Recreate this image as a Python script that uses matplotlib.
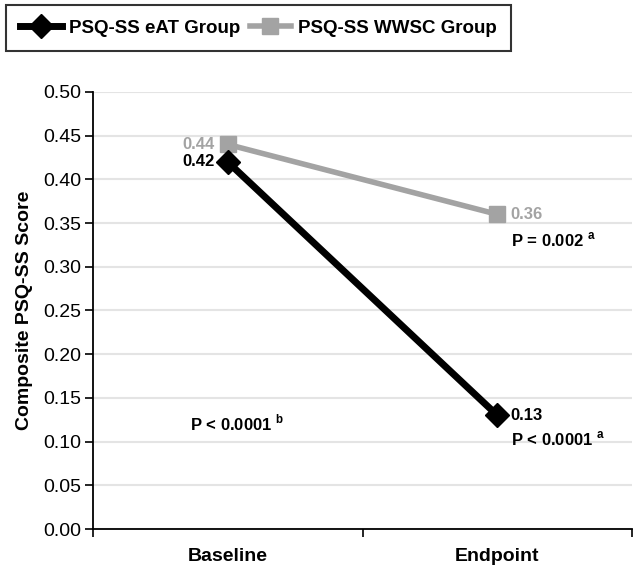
from matplotlib import pyplot as plt

# Data
timepoints = ["Baseline", "Endpoint"]
eat_scores = [0.42, 0.13]
wwsc_scores = [0.44, 0.36]
series_names = ["PSQ-SS eAT Group", "PSQ-SS WWSC Group"]

plt.rcParams["font.family"] = ["Liberation Sans", "DejaVu Sans"]
plt.rcParams["mathtext.fontset"] = "custom"
plt.rcParams["mathtext.rm"] = "Liberation Sans:bold"

fig = plt.figure(figsize=(6.36, 5.65), dpi=100)
ax = fig.add_axes([0.146, 0.0637, 0.848, 0.7735])

xs = [0.5, 1.5]
grey = "#a3a3a3"

ax.plot(xs, wwsc_scores, color=grey, lw=4, marker="s", ms=12,
        label=series_names[1], zorder=3)
ax.plot(xs, eat_scores, color="black", lw=5, marker="D", ms=12,
        label=series_names[0], zorder=4)

# value labels
ax.text(xs[0] - 0.05, wwsc_scores[0], "{:.2f}".format(wwsc_scores[0]),
        color=grey, fontsize=12, fontweight="bold", ha="right", va="center")
ax.text(xs[0] - 0.05, eat_scores[0], "{:.2f}".format(eat_scores[0]),
        color="black", fontsize=12, fontweight="bold", ha="right", va="center")
ax.text(xs[1] + 0.05, wwsc_scores[1], "{:.2f}".format(wwsc_scores[1]),
        color=grey, fontsize=12, fontweight="bold", ha="left", va="center")
ax.text(xs[1] + 0.05, eat_scores[1], "{:.2f}".format(eat_scores[1]),
        color="black", fontsize=12, fontweight="bold", ha="left", va="center")

# p-values
ax.text(xs[1] + 0.05, 0.331, r"P = 0.002 $^{\rm a}$", fontsize=12,
        fontweight="bold", ha="left", va="center")
ax.text(xs[1] + 0.05, 0.103, r"P < 0.0001 $^{\rm a}$", fontsize=12,
        fontweight="bold", ha="left", va="center")
ax.text(xs[0] - 0.14, 0.121, r"P < 0.0001 $^{\rm b}$", fontsize=12,
        fontweight="bold", ha="left", va="center")

ax.set_xlim(0, 2)
ax.set_ylim(0, 0.5)
ax.set_yticks([i * 0.05 for i in range(11)])
ax.set_yticklabels(["{:.2f}".format(i * 0.05) for i in range(11)], fontsize=14)
ax.set_xticks([0, 1, 2])
ax.set_xticklabels([])
ax.set_xticks(xs, minor=True)
ax.set_xticklabels(timepoints, minor=True, fontsize=14, fontweight="bold")
ax.tick_params(axis="x", which="minor", length=0, pad=14)
ax.tick_params(axis="x", which="major", length=6, direction="out", width=1.2)
ax.tick_params(axis="y", length=6, width=1.2, direction="out", pad=2)

ax.grid(axis="y", color="#e4e4e4", lw=1.5)
ax.set_axisbelow(True)
for s in ["top", "right"]:
    ax.spines[s].set_visible(False)
ax.spines["left"].set_linewidth(1.3)
ax.spines["bottom"].set_linewidth(1.3)

ax.set_ylabel("Composite PSQ-SS Score", fontsize=14, fontweight="bold",
              labelpad=8)

handles, labels = ax.get_legend_handles_labels()
leg = fig.legend(handles[::-1], labels[::-1], loc="upper left",
                 bbox_to_anchor=(0.004, 0.997), ncol=2,
                 prop={"weight": "bold", "size": 13.5}, frameon=True,
                 fancybox=False, edgecolor="black", handlelength=2.2,
                 columnspacing=0.5, handletextpad=0.4, borderpad=0.75,
                 borderaxespad=0.2)
leg.get_frame().set_linewidth(1.5)

fig.savefig("out.png", dpi=100)
